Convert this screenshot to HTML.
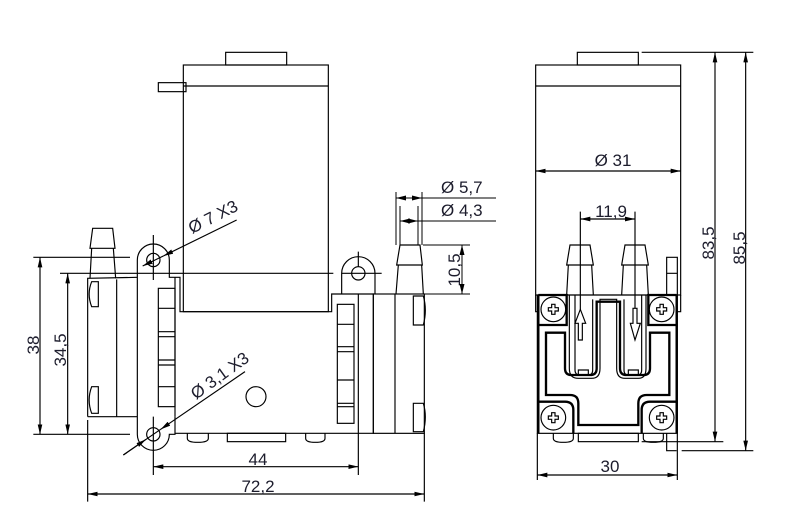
<!DOCTYPE html>
<html><head><meta charset="utf-8"><style>
html,body{margin:0;padding:0;background:#fff;}
svg{display:block;}
text{font-family:"Liberation Sans",sans-serif;fill:#1c1c2c;}
</style></head><body>
<svg width="806" height="528" viewBox="0 0 806 528" xmlns="http://www.w3.org/2000/svg">
<defs>
<marker id="a" viewBox="0 0 30 14" refX="30" refY="7" markerUnits="userSpaceOnUse" markerWidth="30" markerHeight="14" orient="auto-start-reverse"><path d="M0,0 L30,7 L0,14 z" fill="#000"/></marker>
<marker id="b" viewBox="0 0 10 5" refX="10" refY="2.5" markerUnits="userSpaceOnUse" markerWidth="10" markerHeight="5" orient="auto-start-reverse"><path d="M0,0 L10,2.5 L0,5 z" fill="#000"/></marker>
</defs>

<g transform="translate(20,40) scale(0.33333)" fill="none" stroke="#000" stroke-width="3.5">
  <rect x="617" y="37" width="183" height="38"/>
  <rect x="490" y="75" width="435" height="740"/>
  <line x1="490" y1="138" x2="925" y2="138"/>
  <rect x="415" y="128" width="83" height="27"/>
  <path d="M352,660 A48,48 0 0 1 448,660 V712 H480 V815 H935 V762 H1060 V1180 H465"/>
  <path d="M352,660 V1183 A48,48 0 0 0 448,1183 H465 V1130"/>
  <line x1="465" y1="712" x2="465" y2="1130"/>
  <line x1="203" y1="1130" x2="352" y2="1130"/>
  <circle cx="400" cy="660" r="20"/>
  <circle cx="400" cy="1183" r="20"/>
  <path d="M965,762 V700 A50,50 0 0 1 1065,700 V762"/>
  <circle cx="1015" cy="700" r="20"/>
  <line x1="1015" y1="762" x2="1015" y2="1180"/>
  <path d="M203,1130 V715 L352,712"/>
  <line x1="290" y1="718" x2="290" y2="1130"/>
  <path d="M235,725 H215 Q200,762 215,800 H235 Z"/>
  <path d="M235,1040 H215 Q200,1080 215,1120 H235 Z"/>
  <path d="M218,565 H278 L285,625 H210 Z"/>
  <path d="M215,625 L210,715 M280,625 L287,715"/>
  <rect x="1060" y="762" width="153" height="418"/>
  <line x1="1125" y1="762" x2="1125" y2="1180"/>
  <path d="M1180,768 H1210 Q1222,810 1210,855 H1180 Z"/>
  <path d="M1180,1090 H1210 Q1222,1130 1210,1175 H1180 Z"/>
  <path d="M1140,615 H1200 L1207,675 H1130 Z"/>
  <path d="M1135,675 L1128,762 M1205,675 L1210,762"/>
  <rect x="415" y="745" width="50" height="355"/>
  <path d="M415,805 H465 M415,875 H465 M415,890 H465 M415,960 H465 M415,975 H465 M415,1040 H465"/>
  <rect x="952" y="793" width="50" height="357"/>
  <path d="M952,853 H1002 M952,920 H1002 M952,935 H1002 M952,1020 H1002 M952,1090 H1002 M952,1100 H1002"/>
  <circle cx="708" cy="1070" r="30"/>
  <path d="M502,1180 V1195 Q502,1207 533,1207 Q565,1207 565,1195 V1180"/>
  <rect x="622" y="1180" width="175" height="25"/>
  <path d="M857,1180 V1195 Q857,1207 886,1207 Q915,1207 915,1195 V1180"/>
  <path d="M400,585 V720 M400,1130 V1305 M1015,635 V680 M1015,1180 V1305"/>
  <path d="M40,652 H330 M120,700 H940 M965,700 H1085 M40,1183 H330 M203,1140 V1385 M1213,1180 V1385"/>
  <line x1="60" y1="652" x2="60" y2="1183" marker-start="url(#a)" marker-end="url(#a)"/>
  <line x1="143" y1="700" x2="143" y2="1183" marker-start="url(#a)" marker-end="url(#a)"/>
  <line x1="400" y1="1280" x2="1015" y2="1280" marker-start="url(#a)" marker-end="url(#a)"/>
  <line x1="203" y1="1362" x2="1213" y2="1362" marker-start="url(#a)" marker-end="url(#a)"/>
  <line x1="650" y1="540" x2="430" y2="648" marker-end="url(#a)"/>
  <line x1="430" y1="648" x2="368" y2="678" marker-end="url(#a)"/>
  <line x1="675" y1="995" x2="422" y2="1168" marker-end="url(#a)"/>
  <line x1="422" y1="1168" x2="310" y2="1245"/>
  <line x1="310" y1="1245" x2="378" y2="1198" marker-end="url(#a)"/>
</g>
<g font-size="17">
  <text transform="translate(39,345) rotate(-90)" text-anchor="middle">38</text>
  <text transform="translate(66,350) rotate(-90)" text-anchor="middle">34,5</text>
  <text x="258" y="465" text-anchor="middle">44</text>
  <text x="258" y="492" text-anchor="middle">72,2</text>
  <text transform="translate(192,234) rotate(-27)">Ø 7 X3</text>
  <text transform="translate(196,400) rotate(-36)">Ø 3,1 X3</text>
  <text x="441" y="193">Ø 5,7</text>
  <text x="441" y="216">Ø 4,3</text>
  <text transform="translate(460,270) rotate(-90)" text-anchor="middle">10,5</text>
</g>
<g fill="none" stroke="#000" stroke-width="1">
  <path d="M396,192 V245 M422,192 V245 M400,206 V245 M418,206 V245"/>
  <line x1="396" y1="198" x2="422" y2="198" marker-start="url(#b)" marker-end="url(#b)"/>
  <line x1="422" y1="198" x2="496" y2="198"/>
  <line x1="400" y1="221" x2="418" y2="221" marker-start="url(#b)" marker-end="url(#b)"/>
  <line x1="418" y1="221" x2="496" y2="221"/>
  <path d="M423,245 H470 M423,294 H470"/>
  <line x1="462" y1="245" x2="462" y2="294" marker-start="url(#b)" marker-end="url(#b)"/>
</g>

<g transform="translate(520,40) scale(0.33333)" fill="none" stroke="#000" stroke-width="3.5">
  <rect x="172" y="37" width="183" height="38"/>
  <rect x="47" y="75" width="435" height="690"/>
  <line x1="47" y1="138" x2="482" y2="138"/>
  <path d="M47,765 V815 H52"/>
  <path d="M482,765 V815 H472"/>
  <path d="M150,615 H210 L220,675 H140 Z"/>
  <path d="M145,675 L140,765 M215,675 L220,765"/>
  <path d="M315,615 H375 L385,675 H305 Z"/>
  <path d="M310,675 L305,765 M380,675 L385,765"/>
  <path d="M440,765 V652 H472 V765 M440,700 H472"/>
  <rect x="52" y="765" width="420" height="415"/>
  <path d="M148,765 V985 Q148,1015 175,1015 H215 Q240,1015 240,985 V778 H290 V985 Q290,1015 315,1015 H355 Q378,1015 378,985 V765"/>
  <path d="M165,990 Q165,1005 180,1005 H205 Q218,1005 218,990 M312,990 Q312,1005 325,1005 H352 Q365,1005 365,990 M165,990 V765 M218,990 V778 M312,990 V778 M365,990 V765"/>
  <path d="M175,1005 V990 H205 V1005 M325,1005 V990 H355 V1005"/>
  <g stroke-width="7">
    <path d="M78,878 H135 V985 Q135,1005 155,1005 H210 Q230,1005 230,985 V785 H300 V985 Q300,1005 320,1005 H370 Q390,1005 390,985 V878 H448 V1065 H380 Q355,1065 355,1090 V1155 H175 V1090 Q175,1065 150,1065 H78 Z"/>
    <path d="M55,765 H140 V855 H55 M470,765 H385 V855 H470"/>
    <path d="M55,1180 V1085 H135 Q160,1085 160,1110 V1180 M470,1180 V1085 H390 Q365,1085 365,1110 V1180"/>
    <path d="M55,765 V1180 M470,765 V1180"/>
  </g>
  <g>
    <circle cx="100" cy="808" r="37"/><circle cx="425" cy="808" r="37"/>
    <circle cx="100" cy="1133" r="37"/><circle cx="425" cy="1133" r="37"/>
    <path d="M95,793 h10 v10 h10 v10 h-10 v10 h-10 v-10 h-10 v-10 h10 z"/>
    <path d="M420,793 h10 v10 h10 v10 h-10 v10 h-10 v-10 h-10 v-10 h10 z"/>
    <path d="M95,1118 h10 v10 h10 v10 h-10 v10 h-10 v-10 h-10 v-10 h10 z"/>
    <path d="M420,1118 h10 v10 h10 v10 h-10 v10 h-10 v-10 h-10 v-10 h10 z"/>
  </g>
  <path d="M175,900 V850 H165 L181,808 L197,850 H187 V900 Z"/>
  <path d="M339,805 V850 H331 L345,900 L361,850 H351 V805 Z"/>
  <path d="M100,1180 V1195 Q100,1207 130,1207 Q160,1207 160,1195 V1180"/>
  <rect x="175" y="1180" width="180" height="25"/>
  <path d="M370,1180 V1195 Q370,1207 400,1207 Q430,1207 430,1195 V1180"/>
  <path d="M440,1180 V1232 H470"/>
  <path d="M181,515 V808 M345,515 V805"/>
  <line x1="181" y1="537" x2="345" y2="537" marker-start="url(#a)" marker-end="url(#a)"/>
  <line x1="47" y1="393" x2="482" y2="393" marker-start="url(#a)" marker-end="url(#a)"/>
  <path d="M365,37 H700 M365,1205 H610 M485,1232 H700 M52,1180 V1320 M472,1180 V1320"/>
  <line x1="585" y1="37" x2="585" y2="1205" marker-start="url(#a)" marker-end="url(#a)"/>
  <line x1="677" y1="37" x2="677" y2="1232" marker-start="url(#a)" marker-end="url(#a)"/>
  <line x1="52" y1="1305" x2="472" y2="1305" marker-start="url(#a)" marker-end="url(#a)"/>
</g>
<g font-size="17">
  <text x="613" y="166" text-anchor="middle">Ø 31</text>
  <text x="611" y="217" text-anchor="middle">11,9</text>
  <text transform="translate(714,243) rotate(-90)" text-anchor="middle">83,5</text>
  <text transform="translate(745,248) rotate(-90)" text-anchor="middle">85,5</text>
  <text x="610" y="472" text-anchor="middle">30</text>
</g>
</svg>
</body></html>
